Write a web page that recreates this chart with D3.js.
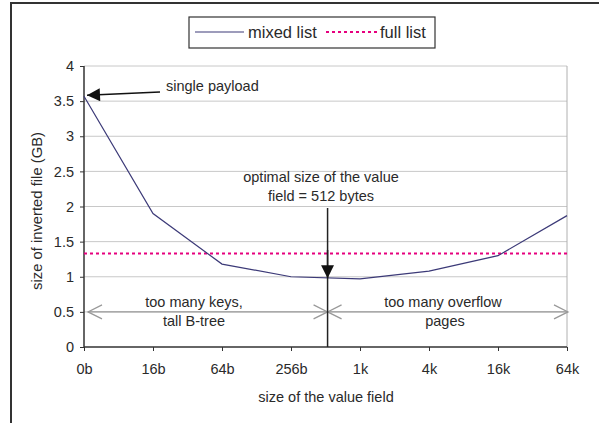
<!DOCTYPE html>
<html><head><meta charset="utf-8">
<script src="https://cdn.jsdelivr.net/npm/d3@7"></script>
<style>body{margin:0;background:#fff}svg{display:block;font-family:"Liberation Sans",Arial,sans-serif}</style>
</head><body>
<svg id="c" width="599" height="423"></svg>
<script>
const categories = ["0b","16b","64b","256b","1k","4k","16k","64k"];
const mixedList = [3.57, 1.90, 1.18, 1.00, 0.97, 1.08, 1.30, 1.87];
const fullList = 1.33;
const yTicks = [0,0.5,1,1.5,2,2.5,3,3.5,4];
const optimalPos = 3.53; // 512 bytes, between 256b and 1k

const svg = d3.select("#c");
const m = {l:84, r:567, t:66, b:347};
const x = d3.scalePoint().domain(categories).range([m.l, m.r]).padding(0);
const xi = d3.scaleLinear().domain([0, categories.length-1]).range([m.l, m.r]);
const y = d3.scaleLinear().domain([0,4]).range([m.b, m.t]);
const txt = "#2a2a2a";
const fs = 14.5;

// outer frame
svg.append("path").attr("d","M11,423V3H599").attr("fill","none").attr("stroke","#333").attr("stroke-width",2);

// defs
const defs = svg.append("defs");
defs.append("marker").attr("id","filled").attr("viewBox","0 0 10 10").attr("refX",10).attr("refY",5)
  .attr("markerWidth",15).attr("markerHeight",13).attr("markerUnits","userSpaceOnUse").attr("orient","auto")
  .append("path").attr("d","M0,0L10,5L0,10Z").attr("fill","#111");
defs.append("marker").attr("id","open").attr("viewBox","0 0 10 10").attr("refX",10).attr("refY",5)
  .attr("markerWidth",14).attr("markerHeight",16).attr("markerUnits","userSpaceOnUse").attr("orient","auto-start-reverse")
  .attr("overflow","visible")
  .append("path").attr("d","M0,0L10,5L0,10").attr("fill","none").attr("stroke","#999").attr("stroke-width",0.9);

// gridlines
svg.append("g").selectAll("line").data(yTicks.filter(d=>d>0)).join("line")
  .attr("x1",m.l).attr("x2",m.r).attr("y1",d=>y(d)).attr("y2",d=>y(d))
  .attr("stroke","#c8c8c8").attr("stroke-width",1);
svg.append("line").attr("x1",m.r).attr("x2",m.r).attr("y1",m.t).attr("y2",m.b).attr("stroke","#b0b0b0");

// axes
const yAxis = svg.append("g").attr("transform",`translate(${m.l},0)`)
  .call(d3.axisLeft(y).tickValues(yTicks).tickSize(4).tickPadding(6).tickFormat(d3.format("")));
const xAxis = svg.append("g").attr("transform",`translate(0,${m.b})`)
  .call(d3.axisBottom(x).tickSize(4).tickPadding(13));
[yAxis,xAxis].forEach(g=>{
  g.select(".domain").attr("stroke","#333").attr("stroke-width",1.5);
  g.selectAll(".tick line").attr("stroke","#333");
  g.selectAll("text").attr("fill",txt).attr("font-size",fs).attr("font-family","Liberation Sans, Arial, sans-serif");
});
xAxis.select(".domain").attr("d",`M${m.l},0H${m.r}`);
yAxis.select(".domain").attr("d",`M0,${m.b}V${m.t}`);

// full list
svg.append("line").attr("x1",m.l).attr("x2",m.r).attr("y1",y(fullList)).attr("y2",y(fullList))
  .attr("stroke","#e6007e").attr("stroke-width",2).attr("stroke-dasharray","3,3");

// mixed list
svg.append("path").datum(mixedList)
  .attr("d", d3.line().x((d,i)=>x(categories[i])).y(d=>y(d)))
  .attr("fill","none").attr("stroke","#3c3a78").attr("stroke-width",1.2);

// region arrows at 0.5
const ox = xi(optimalPos);
svg.append("line").attr("x1",m.l+4).attr("x2",ox).attr("y1",y(0.5)).attr("y2",y(0.5))
  .attr("stroke","#999").attr("stroke-width",1.3).attr("marker-start","url(#open)").attr("marker-end","url(#open)");
svg.append("line").attr("x1",ox).attr("x2",m.r+1).attr("y1",y(0.5)).attr("y2",y(0.5))
  .attr("stroke","#999").attr("stroke-width",1.3).attr("marker-start","url(#open)").attr("marker-end","url(#open)");

// optimal vertical line & arrow
svg.append("line").attr("x1",ox).attr("x2",ox).attr("y1",208).attr("y2",m.b).attr("stroke","#222").attr("stroke-width",1.5);
svg.append("line").attr("x1",ox).attr("x2",ox).attr("y1",250).attr("y2",y(0.98))
  .attr("stroke","#222").attr("stroke-width",1.5).attr("marker-end","url(#filled)");

// single payload arrow
svg.append("line").attr("x1",160).attr("y1",92).attr("x2",x("0b")+3).attr("y2",y(mixedList[0])-1)
  .attr("stroke","#111").attr("stroke-width",1.5).attr("marker-end","url(#filled)");

// annotations
const ann = [
  {t:"single payload", x:166, y:91, a:"start"},
  {t:"optimal size of the value", x:321, y:182, a:"middle"},
  {t:"field = 512 bytes", x:321, y:201, a:"middle"},
  {t:"too many keys,", x:194, y:307, a:"middle"},
  {t:"tall B-tree", x:194, y:326, a:"middle"},
  {t:"too many overflow", x:443, y:307, a:"middle"},
  {t:"pages", x:445, y:326, a:"middle"}
];
svg.append("g").selectAll("text").data(ann).join("text")
  .attr("x",d=>d.x).attr("y",d=>d.y).attr("text-anchor",d=>d.a).attr("font-size",fs).attr("fill",txt).text(d=>d.t);

// axis titles
svg.append("text").attr("x",326).attr("y",402).attr("text-anchor","middle").attr("font-size",fs).attr("fill",txt).text("size of the value field");
svg.append("text").attr("transform",`translate(42,211) rotate(-90)`).attr("text-anchor","middle").attr("font-size",14.8).attr("fill",txt).text("size of inverted file (GB)");

// legend
const lg = svg.append("g");
lg.append("rect").attr("x",189).attr("y",17).attr("width",246).attr("height",31).attr("fill","#fff").attr("stroke","#333").attr("stroke-width",1.2);
lg.append("line").attr("x1",195).attr("x2",244).attr("y1",32).attr("y2",32).attr("stroke","#3c3a78").attr("stroke-width",1.2);
lg.append("text").attr("x",248).attr("y",38).attr("font-size",16.5).attr("fill",txt).text("mixed list");
lg.append("line").attr("x1",326).attr("x2",377).attr("y1",32).attr("y2",32).attr("stroke","#e6007e").attr("stroke-width",2).attr("stroke-dasharray","3,3");
lg.append("text").attr("x",380).attr("y",38).attr("font-size",16.5).attr("fill",txt).text("full list");
</script>
</body></html>
